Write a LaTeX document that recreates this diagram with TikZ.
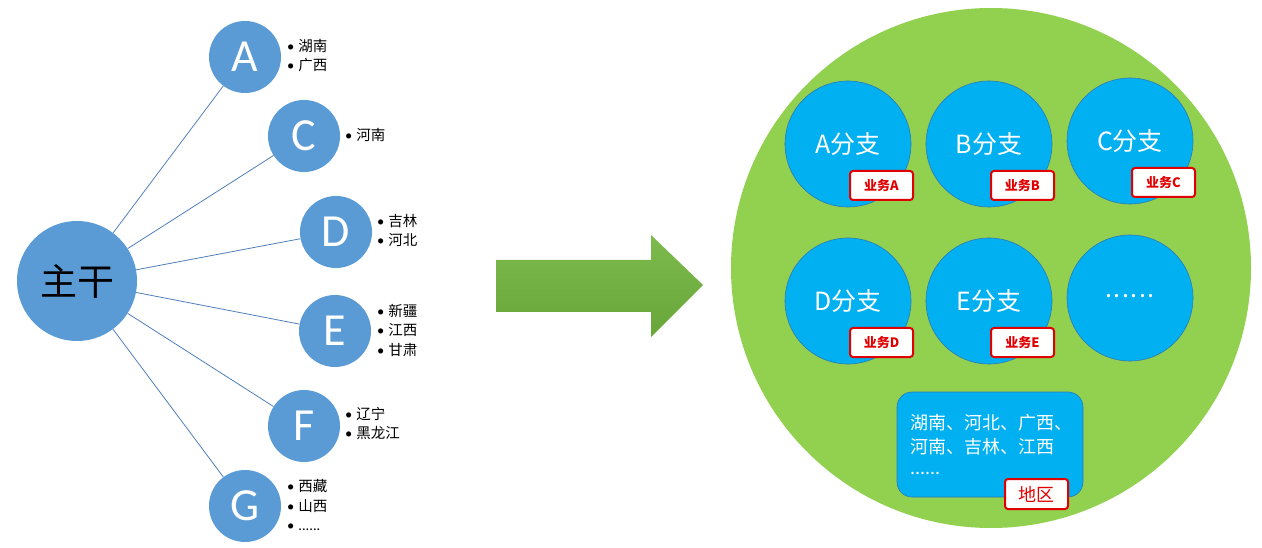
\documentclass[tikz,border=0pt]{standalone}
\usepackage{fontspec}
\setmainfont{Carlito}
\newfontfamily\cjk{Noto Sans CJK SC}
\definecolor{circblue}{HTML}{5B9BD5}
\definecolor{linkblue}{HTML}{4F7FB8}
\definecolor{brightblue}{HTML}{00B0F0}
\definecolor{edgeblue}{HTML}{2E7AB5}
\definecolor{biggreen}{HTML}{92D050}
\definecolor{arrowtop}{HTML}{7CBA4E}
\definecolor{arrowbot}{HTML}{68A63A}
\definecolor{tagred}{HTML}{E00000}
\newcommand\bl[1]{•\hspace{4pt}{\cjk #1}}
\begin{document}
\begin{tikzpicture}[x=1pt,y=-1pt,
  trunk/.style={circle,fill=circblue,inner sep=0,minimum size=120,font=\cjk\fontsize{37}{40}\selectfont,text=black},
  leaf/.style={circle,fill=circblue,inner sep=0,minimum size=72,font=\fontsize{46}{48}\selectfont,text=white},
  link/.style={draw=linkblue,line width=0.8pt},
  blist/.style={anchor=west,align=left,inner sep=0,font=\fontsize{14.5}{19.5}\selectfont},
  branch/.style={circle,fill=brightblue,draw=edgeblue,line width=0.6pt,inner sep=0,minimum size=126,text=white,font=\cjk\fontsize{25}{28}\selectfont},
  tag/.style={rectangle,rounded corners=3,draw=tagred,line width=2pt,fill=white,inner sep=0,minimum width=63,minimum height=29,anchor=north west,text=tagred,font=\cjk\bfseries\fontsize{13}{15}\selectfont},
]
\useasboundingbox (0,0) rectangle (1262,548);
% left tree
\node[trunk] (main) at (77,281) {主干};
\node[leaf] (A) at (245,57) {A};
\node[leaf] (C) at (304,136) {C};
\node[leaf] (D) at (336,232) {D};
\node[leaf] (E) at (335,331) {E};
\node[leaf] (F) at (304,426) {F};
\node[leaf] (G) at (245,506) {G};
\foreach \n in {A,C,D,E,F,G} \draw[link] (main) -- (\n);
\node[blist] (lA) at (287,55.5) {\bl{湖南}\\\bl{广西}};
\node[blist] (lC) at (345,135) {\bl{河南}};
\node[blist] (lD) at (377,230.5) {\bl{吉林}\\\bl{河北}};
\node[blist] (lE) at (377,330) {\bl{新疆}\\\bl{江西}\\\bl{甘肃}};
\node[blist] (lF) at (345,423.5) {\bl{辽宁}\\\bl{黑龙江}};
\node[blist] (lG) at (287,505) {\bl{西藏}\\\bl{山西}\\•\hspace{4pt}......};
% arrow
\shade[top color=arrowtop,bottom color=arrowbot] (496,260) -- (651,260) -- (651,235) -- (703,285) -- (651,337) -- (651,312) -- (496,312) -- cycle;
% right
\node[circle,fill=biggreen,inner sep=0,minimum size=520] (ring) at (991,268) {};
\node[branch] (bA) at (848,144) {A分支};
\node[branch] (bB) at (989,144) {B分支};
\node[branch] (bC) at (1130,141) {C分支};
\node[branch] (bD) at (848,301) {D分支};
\node[branch] (bE) at (989,301) {E分支};
\node[branch] (bF) at (1130,298) {\raisebox{4pt}{.\hspace{1.5pt}.\hspace{1.5pt}.\hspace{1.5pt}.\hspace{1.5pt}.\hspace{1.5pt}.}};
\node[tag] (tA) at (849,170) {业务A};
\node[tag] (tB) at (990,170) {业务B};
\node[tag] (tC) at (1131,167) {业务C};
\node[tag] (tD) at (849,327) {业务D};
\node[tag] (tE) at (990,327) {业务E};
\node[rectangle,rounded corners=15,fill=brightblue,draw=edgeblue,line width=0.6pt,minimum width=186,minimum height=105,text width=160,inner xsep=13,align=left,text=white,font=\cjk\fontsize{18}{24.5}\selectfont] (region) at (990,444.5) {湖南、河北、广西、\\河南、吉林、江西\\[-4pt]......\\[4pt]};
\node[tag,minimum width=63,minimum height=30,font=\cjk\fontsize{18}{20}\selectfont] (tR) at (1004,478) {地区};
\end{tikzpicture}
\end{document}
